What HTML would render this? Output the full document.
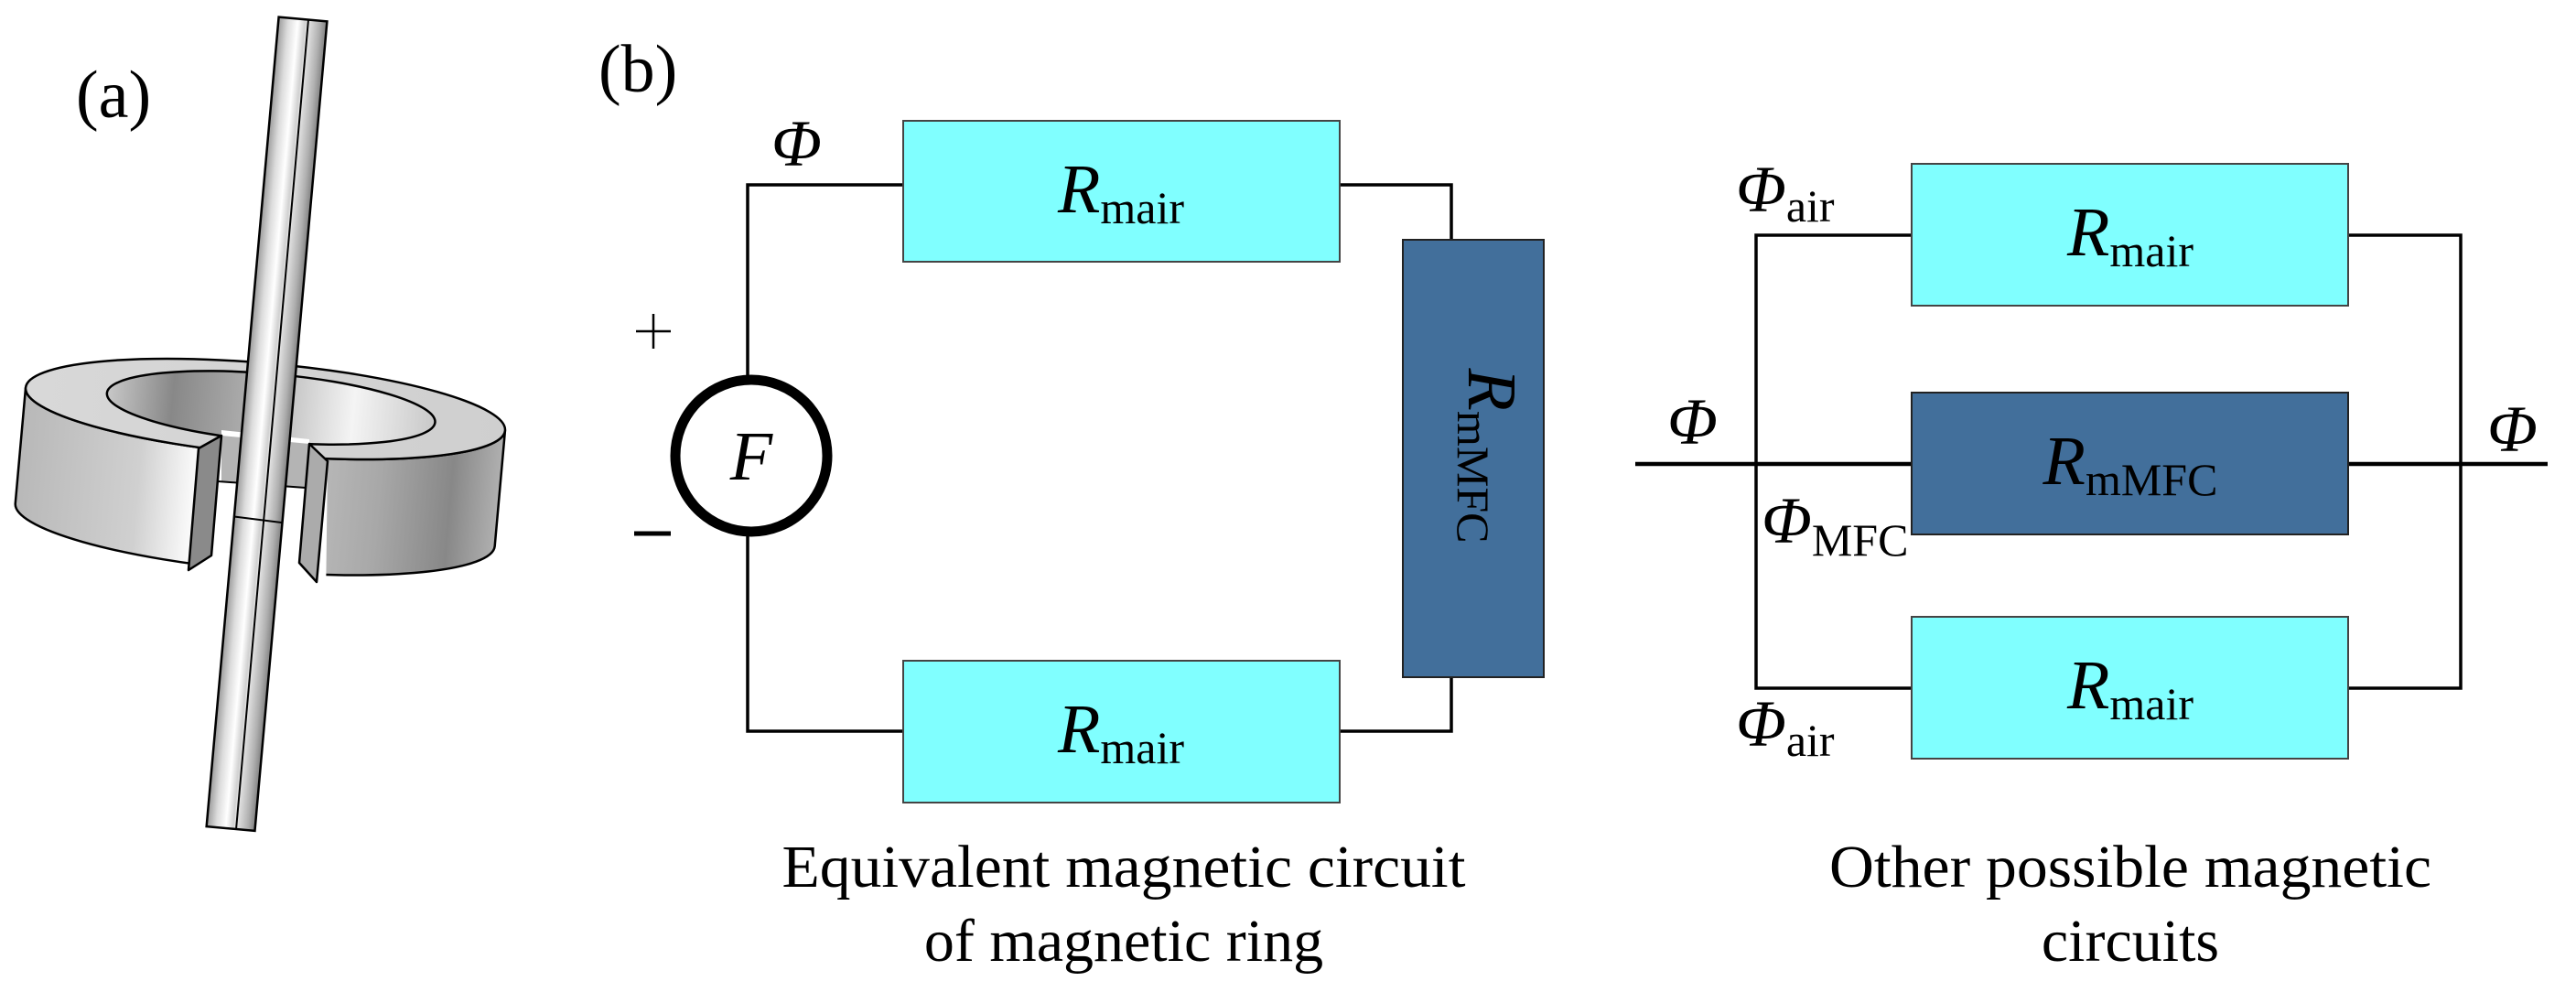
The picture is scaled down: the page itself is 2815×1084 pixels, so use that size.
<!DOCTYPE html>
<html><head><meta charset="utf-8"><style>
html,body{margin:0;padding:0;background:#fff;}
svg{display:block;}
text{font-family:"Liberation Serif",serif;fill:#000;}
.it{font-style:italic;}
</style></head><body>
<svg width="2815" height="1084" viewBox="0 0 2815 1084" xmlns="http://www.w3.org/2000/svg">
<defs>
<linearGradient id="side" x1="0" y1="0" x2="1" y2="0">
<stop offset="0" stop-color="#b8b8b8"/><stop offset="0.25" stop-color="#d0d0d0"/><stop offset="0.38" stop-color="#ffffff"/><stop offset="0.5" stop-color="#c8c8c8"/><stop offset="0.75" stop-color="#a8a8a8"/><stop offset="0.9" stop-color="#888"/><stop offset="1" stop-color="#b0b0b0"/>
</linearGradient>
<linearGradient id="top" x1="0" y1="0" x2="1" y2="0">
<stop offset="0" stop-color="#d8d8d8"/><stop offset="1" stop-color="#cfcfcf"/>
</linearGradient>
<linearGradient id="hole" x1="0" y1="0" x2="1" y2="0">
<stop offset="0" stop-color="#c8c8c8"/><stop offset="0.2" stop-color="#888"/><stop offset="0.5" stop-color="#b8b8b8"/><stop offset="0.75" stop-color="#f4f4f4"/><stop offset="1" stop-color="#c8c8c8"/>
</linearGradient>
<linearGradient id="rod" x1="0" y1="0" x2="1" y2="0">
<stop offset="0" stop-color="#9a9a9a"/><stop offset="0.2" stop-color="#dcdcdc"/><stop offset="0.4" stop-color="#ffffff"/><stop offset="0.55" stop-color="#d0d0d0"/><stop offset="0.6" stop-color="#e8e8e8"/><stop offset="0.85" stop-color="#b0b0b0"/><stop offset="1" stop-color="#808080"/>
</linearGradient>
</defs>

<!-- (a) ring -->
<g transform="translate(290,447) rotate(5.1)">
<path d="M -263 0 A 263 50 0 0 0 263 0 L 263 127 A 263 50 0 0 1 -263 127 Z" fill="url(#side)" stroke="#000" stroke-width="2.5"/>
<ellipse cx="0" cy="0" rx="263" ry="50" fill="url(#top)" stroke="#000" stroke-width="2.5"/>
<ellipse cx="6" cy="-2" rx="180" ry="37" fill="url(#hole)" stroke="#000" stroke-width="2.5"/>
</g>
<!-- gap -->
<polygon points="242,472 338,482 338,533 242,526" fill="#b4b4b4"/>
<polygon points="242,526 338,533 338,660 206,660 231,607" fill="#fff"/>
<polygon points="217,490 242,476 242,470 338,480 338,485 358,504 356,660 200,660 206,623" fill="#fff"/>
<polygon points="242,476 338,485 338,533 242,526" fill="#b4b4b4"/>
<line x1="238" y1="526" x2="334" y2="533" stroke="#000" stroke-width="2"/>
<!-- end faces -->
<polygon points="217,490 242,476 231,607 206,623" fill="#8a8a8a" stroke="#000" stroke-width="2.5" stroke-linejoin="round"/>
<polygon points="338,485 358,504 346,636 327,615" fill="#ababab" stroke="#000" stroke-width="2.5" stroke-linejoin="round"/>
<!-- front pieces bottom cleanup: left piece front bottom -->
<!-- rod -->
<g transform="translate(331,21) rotate(5.1)">
<rect x="-26.5" y="0" width="53" height="888" fill="url(#rod)" stroke="#000" stroke-width="2.5"/>
<line x1="6" y1="0" x2="6" y2="888" stroke="#000" stroke-width="2"/>
<line x1="-26.5" y1="548" x2="26.5" y2="550" stroke="#000" stroke-width="2"/>
</g>

<text x="83" y="128" font-size="74">(a)</text>
<text x="654" y="100" font-size="74">(b)</text>

<!-- left circuit wires -->
<g fill="none" stroke="#000" stroke-width="3.5">
<polyline points="987,202 817,202 817,412"/>
<polyline points="817,584 817,799 987,799"/>
<polyline points="1464,202 1586,202 1586,262"/>
<polyline points="1586,740 1586,799 1464,799"/>
</g>
<rect x="987" y="132" width="477" height="154" fill="#80ffff" stroke="#444" stroke-width="2"/>
<rect x="987" y="722" width="477" height="155" fill="#80ffff" stroke="#444" stroke-width="2"/>
<rect x="1533" y="262" width="154" height="478" fill="#426f9b" stroke="#222" stroke-width="2"/>
<circle cx="821" cy="498" r="83" fill="#fff" stroke="#000" stroke-width="11"/>
<text x="821" y="524" font-size="76" class="it" text-anchor="middle">F</text>
<line x1="695" y1="362" x2="733" y2="362" stroke="#000" stroke-width="2.5"/>
<line x1="714" y1="343" x2="714" y2="381" stroke="#000" stroke-width="2.5"/>
<line x1="693" y1="583" x2="733" y2="583" stroke="#000" stroke-width="5"/>
<text x="843" y="181" font-size="72" class="it">Φ</text>

<text x="1225" y="232" font-size="76" text-anchor="middle"><tspan class="it">R</tspan><tspan font-size="50" dy="12">mair</tspan></text>
<text x="1225" y="822" font-size="76" text-anchor="middle"><tspan class="it">R</tspan><tspan font-size="50" dy="12">mair</tspan></text>
<g transform="translate(1605,498) rotate(90)">
<text x="0" y="0" font-size="76" text-anchor="middle"><tspan class="it">R</tspan><tspan font-size="50" dy="12">mMFC</tspan></text>
</g>

<text x="1228" y="969" font-size="66" text-anchor="middle" textLength="747" lengthAdjust="spacingAndGlyphs">Equivalent magnetic circuit</text>
<text x="1228" y="1050" font-size="66" text-anchor="middle">of magnetic ring</text>

<!-- right circuit -->
<g fill="none" stroke="#000" stroke-width="3.5">
<polyline points="2089,257 1919,257 1919,752 2089,752"/>
<polyline points="2566,257 2689,257 2689,752 2566,752"/>
</g>
<line x1="1787" y1="507" x2="2089" y2="507" stroke="#000" stroke-width="4.5"/>
<line x1="2566" y1="507" x2="2784" y2="507" stroke="#000" stroke-width="4.5"/>
<rect x="2089" y="179" width="477" height="155" fill="#80ffff" stroke="#444" stroke-width="2"/>
<rect x="2089" y="429" width="477" height="155" fill="#426f9b" stroke="#222" stroke-width="2"/>
<rect x="2089" y="674" width="477" height="155" fill="#80ffff" stroke="#444" stroke-width="2"/>
<text x="2328" y="279" font-size="76" text-anchor="middle"><tspan class="it">R</tspan><tspan font-size="50" dy="12">mair</tspan></text>
<text x="2328" y="529" font-size="76" text-anchor="middle"><tspan class="it">R</tspan><tspan font-size="50" dy="12">mMFC</tspan></text>
<text x="2328" y="774" font-size="76" text-anchor="middle"><tspan class="it">R</tspan><tspan font-size="50" dy="12">mair</tspan></text>

<text x="1897" y="231" font-size="72"><tspan class="it">Φ</tspan><tspan font-size="50" dy="11">air</tspan></text>
<text x="1897" y="815" font-size="72"><tspan class="it">Φ</tspan><tspan font-size="50" dy="11">air</tspan></text>
<text x="1925" y="593" font-size="72"><tspan class="it">Φ</tspan><tspan font-size="50" dy="14">MFC</tspan></text>
<text x="1822" y="485" font-size="72" class="it">Φ</text>
<text x="2718" y="493" font-size="72" class="it">Φ</text>

<text x="2328" y="969" font-size="66" text-anchor="middle" textLength="658" lengthAdjust="spacingAndGlyphs">Other possible magnetic</text>
<text x="2328" y="1050" font-size="66" text-anchor="middle">circuits</text>
</svg>
</body></html>
